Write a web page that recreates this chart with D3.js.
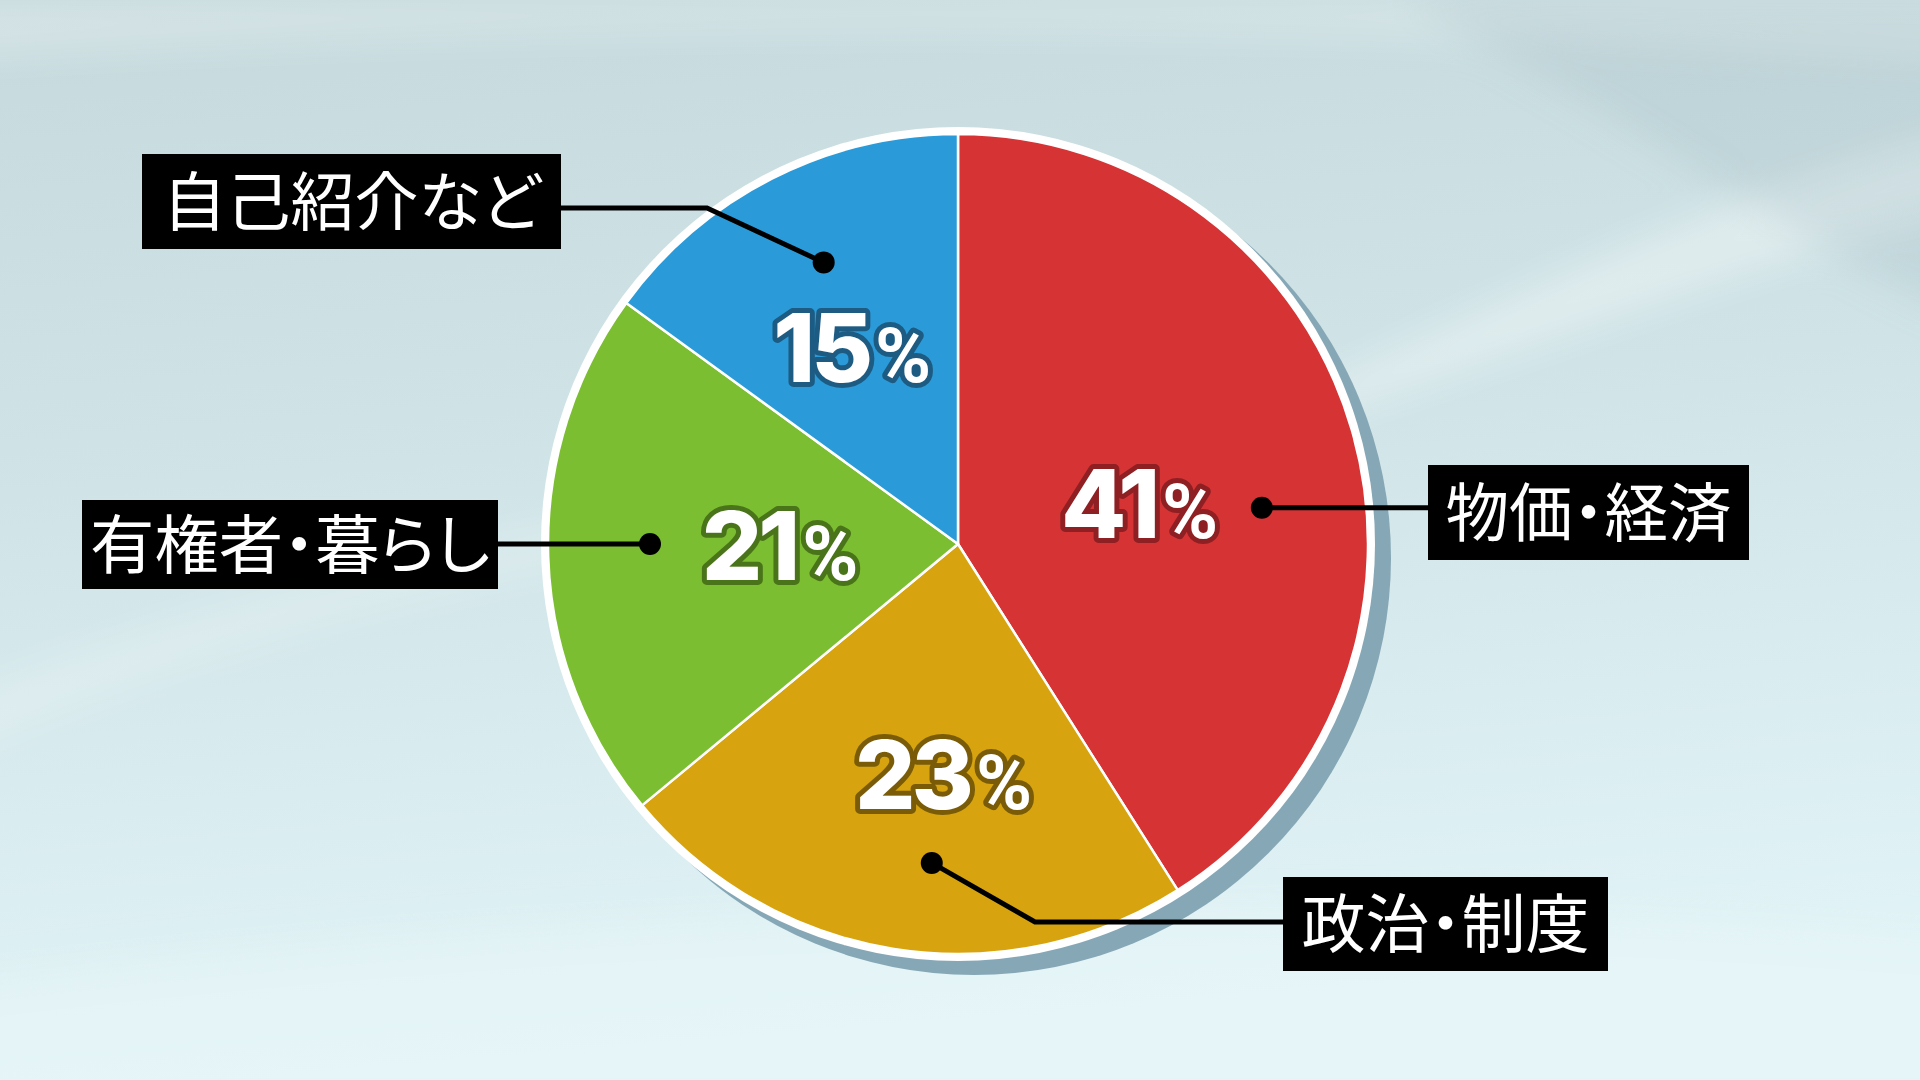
<!DOCTYPE html>
<html>
<head>
<meta charset="utf-8">
<script src="https://cdn.jsdelivr.net/npm/d3@7"></script>
<style>
  html, body { margin: 0; padding: 0; overflow: hidden; }
  svg { display: block; }
</style>
</head>
<body>
<svg id="chart"></svg>
<script>
// Data
const categories = ["物価・経済", "政治・制度", "有権者・暮らし", "自己紹介など"];
const shares = [41, 23, 21, 15];
const sliceColors = ["#d63335", "#d7a40f", "#7cbe31", "#2a9bd8"];
const outlineColors = ["#8e1f22", "#7a5c08", "#4a7419", "#1d5b82"];

// Layout
const width = 1920;
const height = 1080;
const cx = 958, cy = 544;
const radius = 410;

// label placement relative to slice middle: [radius, angle offset in degrees]
const pctPlace = [[186, 3.8], [231, -5.4], [178, 1.2], [223, -1.3]];
const dotPlace = [[306, 9.4], [320, -4.3], [308, 1.8], [312, 1.5]];
// boxes: left, top, width, height, text width, elbow point (or null)
const boxPlace = [
  { x: 1428, y: 465, w: 321, h: 95, tw: 286, elbow: null, side: "left" },
  { x: 1283, y: 877, w: 325, h: 94, tw: 288, elbow: [1035, 922], side: "left" },
  { x: 82, y: 500, w: 416, h: 89, tw: 400, elbow: null, side: "right" },
  { x: 142, y: 154, w: 419, h: 95, tw: 378, elbow: [707, 208], side: "right" }
];

const svg = d3.select("#chart")
  .attr("width", width)
  .attr("height", height)
  .attr("viewBox", [0, 0, width, height]);

const defs = svg.append("defs");

// Background
const bg = defs.append("linearGradient")
  .attr("id", "bg")
  .attr("x1", 0).attr("y1", 0).attr("x2", 0.15).attr("y2", 1);
bg.append("stop").attr("offset", "0%").attr("stop-color", "#c6dadd");
bg.append("stop").attr("offset", "45%").attr("stop-color", "#d0e4e7");
bg.append("stop").attr("offset", "100%").attr("stop-color", "#e1f3f6");

defs.append("filter").attr("id", "soft")
  .attr("x", "-20%").attr("y", "-20%").attr("width", "140%").attr("height", "140%")
  .append("feGaussianBlur").attr("stdDeviation", 18);

svg.append("rect")
  .attr("width", width)
  .attr("height", height)
  .attr("fill", "url(#bg)");

// faint swooshes in the background
const swoosh = svg.append("g").attr("filter", "url(#soft)");
swoosh.append("path")
  .attr("d", "M-100,60 C500,20 1300,10 2050,70 L2050,0 L-100,0 Z")
  .attr("fill", "#ffffff").attr("opacity", 0.25);
swoosh.append("path")
  .attr("d", "M1250,420 C1500,300 1750,180 2000,120 L2000,200 C1750,260 1500,360 1250,440 Z")
  .attr("fill", "#ffffff").attr("opacity", 0.35);
swoosh.append("path")
  .attr("d", "M-50,700 C300,560 700,480 1100,470 L1100,500 C700,520 300,600 -50,760 Z")
  .attr("fill", "#ffffff").attr("opacity", 0.2);
swoosh.append("path")
  .attr("d", "M-50,980 C600,900 1300,880 2000,940 L2000,1120 L-50,1120 Z")
  .attr("fill", "#eaf8fa").attr("opacity", 0.5);
swoosh.append("path")
  .attr("d", "M1400,0 C1650,120 1800,260 2000,330 L2000,0 Z")
  .attr("fill", "#9fb9bf").attr("opacity", 0.25);

// Pie
const pie = d3.pie().sort(null).value(d => d)(shares);
const arc = d3.arc().innerRadius(0).outerRadius(radius);

const g = svg.append("g").attr("transform", `translate(${cx},${cy})`);

g.append("circle")
  .attr("cx", 16).attr("cy", 14)
  .attr("r", radius + 7)
  .attr("fill", "#86a7b6");

g.append("circle")
  .attr("r", radius + 7)
  .attr("fill", "#ffffff");

g.selectAll("path.slice")
  .data(pie)
  .join("path")
    .attr("class", "slice")
    .attr("d", arc)
    .attr("fill", (d, i) => sliceColors[i])
    .attr("stroke", "#ffffff")
    .attr("stroke-width", 2.5)
    .attr("stroke-linejoin", "round");

function polar(d, place) {
  const mid = (d.startAngle + d.endAngle) / 2 + place[1] * Math.PI / 180;
  return [Math.sin(mid) * place[0], -Math.cos(mid) * place[0]];
}

// Leader lines and dots
const lines = svg.append("g");
pie.forEach((d, i) => {
  const p = polar(d, dotPlace[i]);
  const dot = [cx + p[0], cy + p[1]];
  const b = boxPlace[i];
  const end = b.side === "left" ? b.x : b.x + b.w;
  const pts = [dot];
  if (b.elbow) {
    pts.push(b.elbow);
    pts.push([end, b.elbow[1]]);
  } else {
    pts.push([end, dot[1]]);
  }
  lines.append("path")
    .attr("d", d3.line()(pts))
    .attr("fill", "none")
    .attr("stroke", "#000000")
    .attr("stroke-width", 5);
  lines.append("circle")
    .attr("cx", dot[0]).attr("cy", dot[1])
    .attr("r", 11)
    .attr("fill", "#000000");
});

// Category boxes
const boxes = svg.append("g")
  .selectAll("g")
  .data(categories)
  .join("g");

boxes.append("rect")
  .attr("x", (d, i) => boxPlace[i].x)
  .attr("y", (d, i) => boxPlace[i].y)
  .attr("width", (d, i) => boxPlace[i].w)
  .attr("height", (d, i) => boxPlace[i].h)
  .attr("fill", "#000000");

boxes.append("text")
  .attr("x", (d, i) => boxPlace[i].x + boxPlace[i].w / 2)
  .attr("y", (d, i) => boxPlace[i].y + boxPlace[i].h / 2 + 23)
  .attr("text-anchor", "middle")
  .attr("textLength", (d, i) => boxPlace[i].tw)
  .attr("lengthAdjust", "spacingAndGlyphs")
  .style("font-family", "'Noto Sans CJK JP', 'Noto Sans', sans-serif")
  .style("font-size", "64px")
  .style("font-weight", 400)
  .style("font-feature-settings", "'palt'")
  .attr("fill", "#ffffff")
  .text(d => d);

// Percent labels
const pct = svg.append("g")
  .selectAll("text")
  .data(pie)
  .join("text")
    .attr("x", (d, i) => cx + polar(d, pctPlace[i])[0])
    .attr("y", (d, i) => cy + polar(d, pctPlace[i])[1] + 34)
    .attr("text-anchor", "middle")
    .style("font-family", "Inter, Roboto, sans-serif")
    .style("font-weight", 800)
    .attr("fill", "#ffffff")
    .attr("stroke", (d, i) => outlineColors[i])
    .attr("stroke-width", 10)
    .attr("stroke-linejoin", "round")
    .style("paint-order", "stroke");

pct.append("tspan")
  .style("font-size", "95px")
  .style("letter-spacing", "-4px")
  .text(d => d.data);

pct.append("tspan")
  .attr("dx", 6)
  .style("font-family", "Roboto, sans-serif")
  .style("font-weight", 700)
  .style("font-size", "76px")
  .text("%");
</script>
</body>
</html>
